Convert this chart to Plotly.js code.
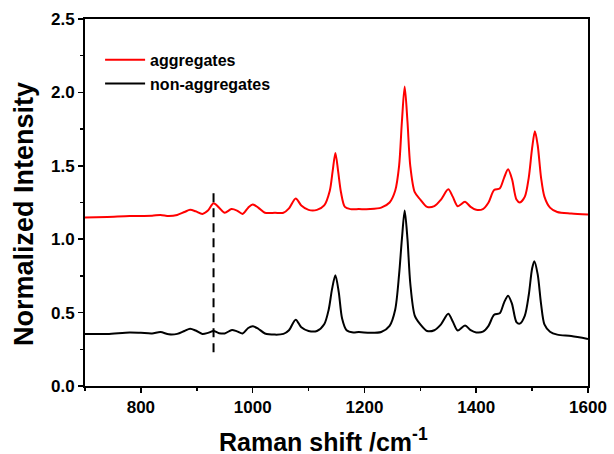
<!DOCTYPE html>
<html><head><meta charset="utf-8">
<script src="https://cdn.plot.ly/plotly-3.0.1.min.js"></script>
<style>html,body{margin:0;padding:0;background:#fff}#c{width:614px;height:454px}</style>
</head><body><div id="c"></div>
<script>
const aggX = [700,740,780,820,835,850,865,878,888,898,910,920,930,940,950,962,972,982,992,1000,1010,1022,1040,1055,1065,1077,1087,1100,1115,1128,1138,1143,1148,1153,1158,1165,1175,1190,1210,1230,1245,1255,1262,1267,1272,1277,1282,1290,1300,1312,1325,1337,1350,1358,1367,1380,1390,1400,1412,1422,1432,1442,1450,1457,1464,1472,1478,1487,1494,1500,1505,1510,1516,1522,1532,1545,1570,1600];
const aggY = [1.148,1.152,1.158,1.160,1.165,1.158,1.165,1.185,1.200,1.190,1.172,1.195,1.245,1.215,1.180,1.205,1.195,1.172,1.215,1.237,1.215,1.180,1.180,1.180,1.210,1.278,1.230,1.200,1.200,1.230,1.330,1.460,1.587,1.460,1.320,1.220,1.205,1.205,1.205,1.215,1.250,1.330,1.500,1.800,2.040,1.800,1.500,1.320,1.270,1.220,1.225,1.270,1.340,1.290,1.225,1.255,1.220,1.200,1.205,1.250,1.335,1.345,1.420,1.477,1.410,1.270,1.250,1.290,1.420,1.620,1.735,1.640,1.420,1.290,1.215,1.185,1.175,1.168];
const nonX = [700,740,780,800,820,835,850,865,878,888,898,910,920,930,940,950,963,972,982,992,1000,1010,1022,1040,1055,1065,1077,1087,1100,1115,1128,1136,1142,1148,1154,1160,1168,1180,1190,1210,1230,1245,1255,1262,1267,1272,1277,1282,1290,1300,1312,1325,1337,1350,1358,1367,1380,1390,1400,1412,1422,1432,1442,1450,1457,1464,1472,1478,1487,1494,1500,1504,1510,1516,1522,1532,1545,1570,1600];
const nonY = [0.354,0.355,0.365,0.362,0.358,0.368,0.352,0.355,0.375,0.390,0.378,0.355,0.362,0.375,0.360,0.358,0.382,0.372,0.358,0.395,0.407,0.390,0.358,0.350,0.355,0.380,0.452,0.400,0.375,0.375,0.420,0.520,0.660,0.755,0.640,0.460,0.380,0.365,0.368,0.362,0.368,0.410,0.520,0.760,1.000,1.195,1.000,0.700,0.480,0.420,0.375,0.380,0.420,0.492,0.440,0.378,0.412,0.380,0.365,0.370,0.410,0.485,0.495,0.570,0.615,0.560,0.435,0.425,0.480,0.620,0.800,0.850,0.760,0.560,0.420,0.370,0.350,0.340,0.320];
const markX = [930,930];
const markY = [0.23,1.35];
const seriesNames = ['aggregates','non-aggregates'];
const xTitle = 'Raman shift /cm<sup>-1</sup>';
const yTitle = 'Normalized Intensity';

const F = 'Liberation Sans, Arial, sans-serif';
const traces = [
  {x: aggX, y: aggY, name: seriesNames[0], mode: 'lines', line: {color: '#ff0000', width: 2, shape: 'spline', smoothing: 0.8}},
  {x: nonX, y: nonY, name: seriesNames[1], mode: 'lines', line: {color: '#000000', width: 2, shape: 'spline', smoothing: 0.8}},
  {x: markX, y: markY, mode: 'lines', showlegend: false, line: {color: '#000000', width: 2, dash: '9px,6px'}}
];
const axisCommon = {
  showgrid: false, zeroline: false, showline: true, linecolor: '#000', linewidth: 2, mirror: true,
  ticks: 'outside', ticklen: 5, tickwidth: 1.5, tickcolor: '#000',
  tickfont: {family: F, size: 17, color: '#000', weight: 'bold'}
};
const layout = {
  width: 614, height: 454,
  margin: {l: 85, r: 26, t: 19, b: 68},
  paper_bgcolor: '#fff', plot_bgcolor: '#fff',
  showlegend: true,
  legend: {x: 0.03, y: 0.935, xanchor: 'left', yanchor: 'top', bgcolor: 'rgba(0,0,0,0)',
    font: {family: F, size: 16, color: '#000', weight: 'bold'}, tracegroupgap: 0, itemwidth: 40},
  xaxis: Object.assign({}, axisCommon, {range: [700, 1600], dtick: 200, tick0: 800,
    minor: {dtick: 100, ticks: 'outside', ticklen: 3, tickwidth: 1.5, tickcolor: '#000'}}),
  yaxis: Object.assign({}, axisCommon, {range: [0, 2.5], dtick: 0.5, tickformat: '.1f',
    minor: {dtick: 0.25, ticks: 'outside', ticklen: 3, tickwidth: 1.5, tickcolor: '#000'}}),
  annotations: [
    {text: xTitle, xref: 'paper', yref: 'paper', x: 0.2624, y: -0.146, xanchor: 'left', yanchor: 'middle',
     showarrow: false, font: {family: F, size: 25, color: '#000', weight: 'bold'}},
    {text: yTitle, xref: 'paper', yref: 'paper', x: -0.1213, y: 0.4687, xanchor: 'center', yanchor: 'middle',
     textangle: -90, showarrow: false, font: {family: F, size: 27, color: '#000', weight: 'bold'}}
  ]
};
Plotly.newPlot('c', traces, layout, {staticPlot: true});
</script></body></html>
